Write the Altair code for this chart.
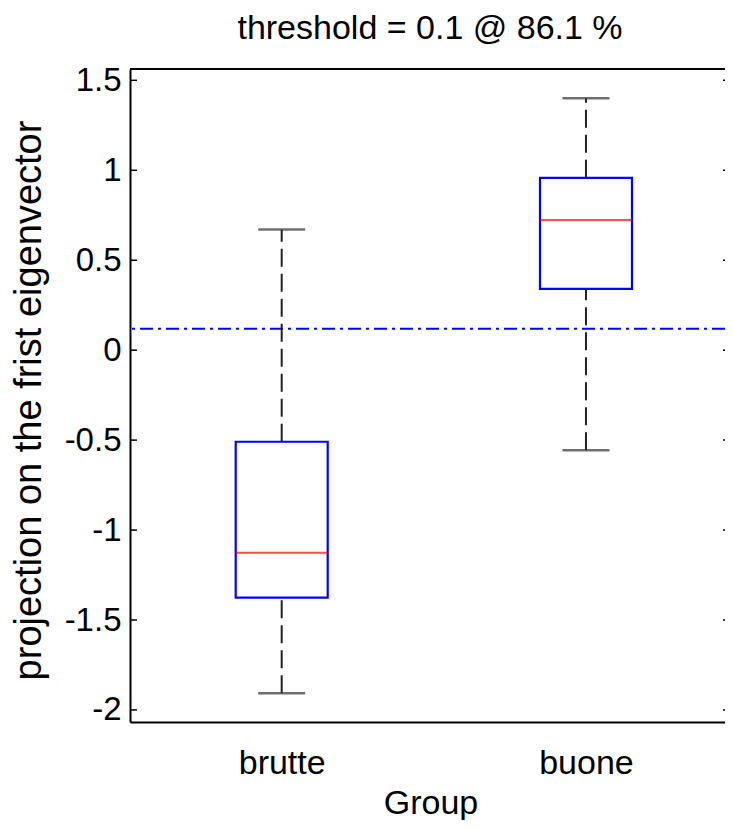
import altair as alt
import pandas as pd

# ---- data ----
groups = ["brutte", "buone"]
lower_whisker = [-1.907, -0.556]
q1 = [-1.376, 0.341]
median = [-1.126, 0.724]
q3 = [-0.509, 0.958]
upper_whisker = [0.671, 1.400]
threshold = [0.119]
y_ticks = [-2, -1.5, -1, -0.5, 0, 0.5, 1, 1.5]
y_domain = [-2.067, 1.563]
title_text = ["threshold = 0.1 @ 86.1 %"]
x_title = "Group"
y_title = "projection on the frist eigenvector"

W, H = 595, 653
FONT = "Liberation Sans"

box_df = pd.DataFrame({"group": groups, "q1": q1, "med": median, "q3": q3})
whisk_df = pd.DataFrame({"group": groups * 2, "a": q3 + lower_whisker, "b": upper_whisker + q1})
cap_df = pd.DataFrame({"group": groups * 2, "v": upper_whisker + lower_whisker})
thr_df = pd.DataFrame({"t": threshold})
tick_df = pd.DataFrame({"v": y_ticks})
title_df = pd.DataFrame({"txt": title_text})
one_df = pd.DataFrame({"k": [0]})

xscale = alt.Scale(type="point", domain=groups, padding=0.4777, align=0.5218)
yscale = alt.Scale(domain=y_domain, nice=False, zero=False)

x_axis = alt.Axis(
    title=x_title, ticks=False, tickSize=0, labelPadding=51, labelBaseline="alphabetic",
    labelFontSize=34, labelAngle=0, labelFont=FONT, labelColor="black",
    titleFontSize=34, titleFont=FONT, titleColor="black", titleFontWeight="normal",
    titleY=91, titleX=W / 2 + 3, titleBaseline="alphabetic",
    grid=False, domainColor="black", domainWidth=2,
)
y_axis = alt.Axis(
    title=y_title, values=y_ticks, ticks=False, tickSize=0, labelPadding=9,
    labelExpr="toString(datum.value)", labelFontSize=33, labelFont=FONT, labelColor="black",
    titleFontSize=38, titleFont=FONT, titleColor="black", titleFontWeight="normal",
    titleX=-90, titleY=331, titleBaseline="alphabetic", titleAngle=-90, titleAlign="center",
    grid=False, domainColor="black", domainWidth=2,
)

X = alt.X("group:N", scale=xscale, axis=x_axis)

whiskers = alt.Chart(whisk_df).mark_rule(strokeDash=[18, 7], strokeWidth=2, color="#222222").encode(
    x=X, y=alt.Y("a:Q", scale=yscale, axis=y_axis), y2="b:Q"
)
caps = alt.Chart(cap_df).mark_tick(size=47, thickness=2.5, color="#333333").encode(
    x=X, y=alt.Y("v:Q", scale=yscale, axis=y_axis)
)
boxes = alt.Chart(box_df).mark_bar(size=92, fill="white", stroke="#0000ff", strokeWidth=2.2).encode(
    x=X, y=alt.Y("q1:Q", scale=yscale, axis=y_axis), y2="q3:Q"
)
medians = alt.Chart(box_df).mark_tick(size=92, thickness=2, color="#ff0000").encode(
    x=X, y=alt.Y("med:Q", scale=yscale, axis=y_axis)
)
thr = alt.Chart(thr_df).mark_rule(color="#0000ff", strokeDash=[13, 5, 3, 5], strokeWidth=2).encode(
    y=alt.Y("t:Q", scale=yscale, axis=y_axis)
)
left_ticks = alt.Chart(tick_df).mark_rule(color="black", strokeWidth=1.5).encode(
    y=alt.Y("v:Q", scale=yscale, axis=y_axis), x=alt.value(0), x2=alt.value(7)
)
right_ticks = alt.Chart(tick_df).mark_rule(color="black", strokeWidth=1.5).encode(
    y=alt.Y("v:Q", scale=yscale, axis=y_axis), x=alt.value(W - 2), x2=alt.value(W)
)
top_border = alt.Chart(one_df).mark_rule(color="black", strokeWidth=2).encode(
    y=alt.value(0), x=alt.value(0), x2=alt.value(W)
)
title = alt.Chart(title_df).mark_text(
    font=FONT, fontSize=34, color="black", align="center", baseline="alphabetic"
).encode(text="txt:N", x=alt.value(300), y=alt.value(-30))

chart = alt.layer(
    thr, whiskers, caps, boxes, medians, left_ticks, right_ticks, top_border, title
).properties(
    width=W,
    height=H,
    autosize=alt.AutoSizeParams(type="none"),
    padding={"left": 122, "top": 61, "right": 0, "bottom": 98},
    background="white",
).configure_view(stroke=None)

chart.save("out.html", embed_options={"renderer": "svg", "actions": False})
